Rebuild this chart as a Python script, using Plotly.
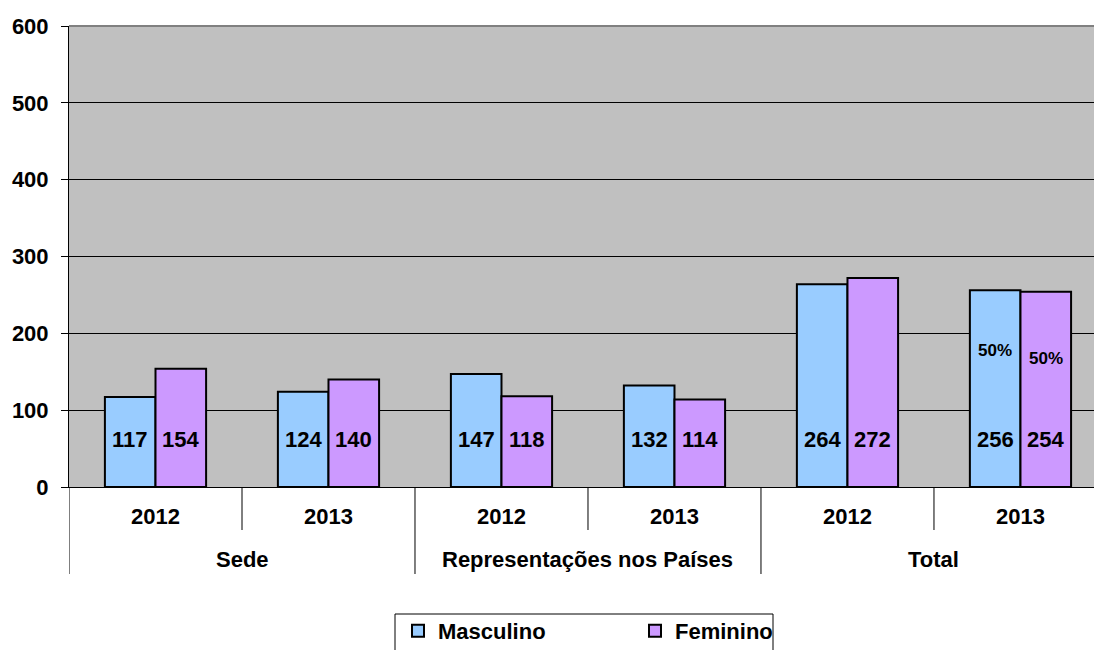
import plotly.graph_objects as go

group_names = ["Sede", "Representações nos Países", "Total"]
years = ["2012", "2013", "2012", "2013", "2012", "2013"]
masculino = [117, 124, 147, 132, 264, 256]
feminino = [154, 140, 118, 114, 272, 254]
pct_labels = ["50%", "50%"]  # Total 2013, Masculino / Feminino

font = "Liberation Sans, Arial, sans-serif"
idx = list(range(len(years)))

# pixel helpers for the paper coordinates below / across the plot
W, H = 1094, 650
PLOT_H = 461
PLOT_W = 1025
def py(px_below):
    return -px_below / PLOT_H
def px(x_pixel):
    return (x_pixel - 69) / PLOT_W

fig = go.Figure()
fig.add_trace(go.Bar(
    x=idx, y=masculino, name="Masculino",
    marker=dict(color="#99CCFF", line=dict(color="black", width=2)),
))
fig.add_trace(go.Bar(
    x=idx, y=feminino, name="Feminino",
    marker=dict(color="#CC99FF", line=dict(color="black", width=2)),
))

annotations = []
# value labels near the bar base
for i, (m, f) in enumerate(zip(masculino, feminino)):
    for dx, v in ((-0.147, m), (0.147, f)):
        annotations.append(dict(
            x=i + dx, y=62, xref="x", yref="y", text=str(v), showarrow=False,
            font=dict(family=font, size=22, color="black", weight="bold"),
        ))
# percentage labels on the last pair
for dx, dy, t in zip((-0.147, 0.147), (178, 167), pct_labels):
    annotations.append(dict(
        x=idx[-1] + dx, y=dy, xref="x", yref="y", text=t, showarrow=False,
        font=dict(family=font, size=17, color="black", weight="bold"),
    ))
# group labels (second level of the category axis)
for g, name in enumerate(group_names):
    annotations.append(dict(
        x=2 * g + 0.5, y=py(72), xref="x", yref="paper", yanchor="middle",
        text=name, showarrow=False,
        font=dict(family=font, size=22, color="black", weight="bold"),
    ))

shapes = []
# short tick dividers between years
for g in range(len(group_names)):
    shapes.append(dict(type="line", xref="x", yref="paper",
                       x0=2 * g + 0.5, x1=2 * g + 0.5, y0=0, y1=py(43),
                       line=dict(color="black", width=1)))
# long dividers between groups
for b in (-0.5, 1.5, 3.5, 5.5):
    shapes.append(dict(type="line", xref="x", yref="paper",
                       x0=b, x1=b, y0=0, y1=py(87),
                       line=dict(color="black", width=1)))
# grey top border of the plot area
shapes.append(dict(type="line", xref="paper", yref="paper", x0=0, x1=1, y0=1, y1=1,
                   line=dict(color="#808080", width=2)))
# legend frame
shapes.append(dict(type="rect", xref="paper", yref="paper",
                   x0=px(395), x1=px(773), y0=py(127), y1=py(170),
                   line=dict(color="black", width=1), fillcolor="rgba(0,0,0,0)"))

fig.update_layout(
    width=W, height=H, autosize=False,
    margin=dict(l=69, r=0, t=26, b=163, autoexpand=False),
    paper_bgcolor="white", plot_bgcolor="#C0C0C0",
    barmode="group", bargap=0.415, bargroupgap=0,
    font=dict(family=font, size=22, color="black", weight="bold"),
    showlegend=True,
    legend=dict(
        orientation="h", xref="container", yref="container",
        x=398 / W, xanchor="left", y=1 - 610 / H, yanchor="top",
        borderwidth=0, bgcolor="rgba(0,0,0,0)",
        font=dict(family=font, size=22, weight="bold"), entrywidth=192,
    ),
    annotations=annotations,
    shapes=shapes,
)
fig.update_yaxes(
    range=[0, 600], dtick=100, showgrid=True, gridcolor="black", gridwidth=1,
    ticks="outside", ticklen=7, tickcolor="black", ticklabelstandoff=8,
    showline=True, linecolor="black", linewidth=1, zeroline=False,
    tickfont=dict(family=font, size=22, weight="bold"),
)
# the source chart's plot area runs a little past the right edge of the image
fig.update_xaxes(
    range=[-0.5, 5.425], tickvals=idx, ticktext=years,
    showline=True, linecolor="black", linewidth=1, showgrid=False, zeroline=False,
    ticks="", ticklabelstandoff=10,
    tickfont=dict(family=font, size=22, weight="bold"),
)

fig.write_html(
    "out.html",
    config={"displayModeBar": False, "responsive": False},
    post_script="document.body.style.margin='0';",
)
